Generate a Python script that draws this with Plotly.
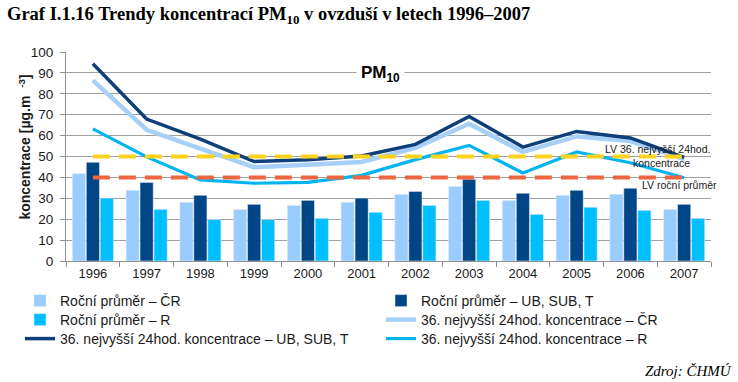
import plotly.graph_objects as go

years = ["1996", "1997", "1998", "1999", "2000", "2001", "2002", "2003", "2004", "2005", "2006", "2007"]
avg_cr = [41.9, 33.8, 28.1, 24.7, 26.6, 28.1, 31.9, 35.7, 29.0, 31.4, 31.9, 24.7]
avg_ub = [47.2, 37.6, 31.4, 27.1, 29.0, 30.1, 33.3, 39.1, 32.4, 33.8, 34.8, 27.1]
avg_r = [30.1, 24.7, 19.8, 19.8, 20.4, 23.3, 26.6, 29.0, 22.3, 25.7, 24.2, 20.4]
top36_cr = [86.4, 62.8, 53.8, 44.9, 46.1, 47.4, 54.1, 65.7, 52.2, 59.6, 57.4, 48.7]
top36_ub = [94.4, 67.9, 58.3, 47.6, 48.5, 50.2, 55.8, 69.2, 54.5, 62.0, 58.9, 49.6]
top36_r = [63.2, 49.8, 38.8, 37.2, 37.6, 41.0, 48.5, 55.3, 42.1, 52.2, 47.0, 39.8]
lv_24h = [50] * 12
lv_year = [40] * 12

names = [
    "Roční průměr – ČR",
    "Roční průměr – UB, SUB, T",
    "Roční průměr – R",
    "36. nejvyšší 24hod. koncentrace – ČR",
    "36. nejvyšší 24hod. koncentrace – UB, SUB, T",
    "36. nejvyšší 24hod. koncentrace – R",
]

C_LIGHT = "#99CCFF"
C_DARK = "#004586"
C_CYAN = "#00BFFF"

W, H = 738, 382

fig = go.Figure()
fig.add_trace(go.Bar(x=years, y=avg_cr, name=names[0], marker_color=C_LIGHT, legend="legend"))
fig.add_trace(go.Bar(x=years, y=avg_ub, name=names[1], marker_color=C_DARK, legend="legend2"))
fig.add_trace(go.Bar(x=years, y=avg_r, name=names[2], marker_color=C_CYAN, legend="legend3"))
fig.add_trace(go.Scatter(x=years, y=top36_cr, name=names[3], mode="lines", legend="legend4",
                         line=dict(color="#A6D0F7", width=4.5)))
fig.add_trace(go.Scatter(x=years, y=top36_ub, name=names[4], mode="lines", legend="legend5",
                         line=dict(color="#0D3F7A", width=3.5)))
fig.add_trace(go.Scatter(x=years, y=top36_r, name=names[5], mode="lines", legend="legend6",
                         line=dict(color="#00B4F0", width=3.2)))
fig.add_trace(go.Scatter(x=years, y=lv_year, mode="lines", showlegend=False,
                         line=dict(color="#EE6640", width=4, dash="17px,9px")))
fig.add_trace(go.Scatter(x=years, y=lv_24h, mode="lines", showlegend=False,
                         line=dict(color="#FFD21E", width=4, dash="17px,9px")))

font_sans = "Liberation Sans, Arial, sans-serif"


def leg(px, py):
    return dict(orientation="v", xref="container", yref="container",
                x=px / W, y=1 - py / H, xanchor="left", yanchor="middle",
                itemwidth=30, tracegroupgap=0, bgcolor="rgba(0,0,0,0)",
                font=dict(family=font_sans, size=14, color="#1a1a1a"))


col1, col2 = 20, 381
rows = [301, 320, 339]

fig.update_layout(
    width=W, height=H,
    margin=dict(l=66, r=W - 711, t=51.5, b=H - 261, autoexpand=False),
    paper_bgcolor="white", plot_bgcolor="white",
    barmode="group", bargap=0.22, bargroupgap=0.06,
    font=dict(family=font_sans, size=13, color="#1a1a1a"),
    showlegend=True,
    legend=leg(col1, rows[0]),
    legend2=leg(col2, rows[0]),
    legend3=leg(col1, rows[1]),
    legend4=leg(col2, rows[1]),
    legend5=leg(col1, rows[2]),
    legend6=leg(col2, rows[2]),
    xaxis=dict(type="category", showgrid=False, showline=True, linecolor="#909090",
               ticks="outside", tickson="boundaries", ticklen=5, tickcolor="#909090",
               tickfont=dict(size=13), zeroline=False),
    yaxis=dict(range=[0, 100], dtick=10, showgrid=True, gridcolor="#A0A0A0", gridwidth=1,
               showline=True, linecolor="#909090", ticks="outside", ticklen=5,
               tickcolor="#909090", zeroline=False, tickfont=dict(size=13.5),
               ticklabelstandoff=4),
)

fig.add_annotation(xref="paper", yref="paper", x=-0.065, y=0.543, xanchor="center", yanchor="middle",
                   text="<b>koncentrace [µg.m  <sup>-3</sup>]</b>", textangle=-90, showarrow=False,
                   font=dict(size=14, color="#1a1a1a"))
fig.add_annotation(xref="paper", yref="paper", x=-0.095, y=1.175, xanchor="left", yanchor="middle",
                   text="<b>Graf I.1.16 Trendy koncentrací PM<sub>10</sub> v ovzduší v letech 1996–2007</b>",
                   showarrow=False,
                   font=dict(family="Liberation Serif, Times New Roman, serif", size=18.5, color="#000"))
fig.add_annotation(xref="paper", yref="y", x=0.487, y=89.5, xanchor="center", yanchor="middle",
                   text="<b>PM<sub>10</sub></b>", showarrow=False, bgcolor="white",
                   borderpad=4, font=dict(size=17, color="#000"))
fig.add_annotation(xref="paper", yref="y", x=0.833, y=53.7, xanchor="left", yanchor="middle",
                   text="LV 36. nejvyšší 24hod.", showarrow=False,
                   font=dict(size=10.5, color="#1a1a1a"))
fig.add_annotation(xref="paper", yref="y", x=0.924, y=47.0, xanchor="center", yanchor="middle",
                   text="koncentrace", showarrow=False,
                   font=dict(size=10.5, color="#1a1a1a"))
fig.add_annotation(xref="paper", yref="y", x=0.89, y=36.5, xanchor="left", yanchor="middle",
                   text="LV roční průměr", showarrow=False,
                   font=dict(size=10.5, color="#1a1a1a"))
fig.add_annotation(xref="paper", yref="paper", x=1.036, y=-0.524, xanchor="right", yanchor="middle",
                   text="<i>Zdroj: ČHMÚ</i>", showarrow=False,
                   font=dict(family="Liberation Serif, Times New Roman, serif", size=15, color="#000"))

fig.write_html("out.html", config={"displayModeBar": False},
               post_script="document.body.style.margin='0px';")
